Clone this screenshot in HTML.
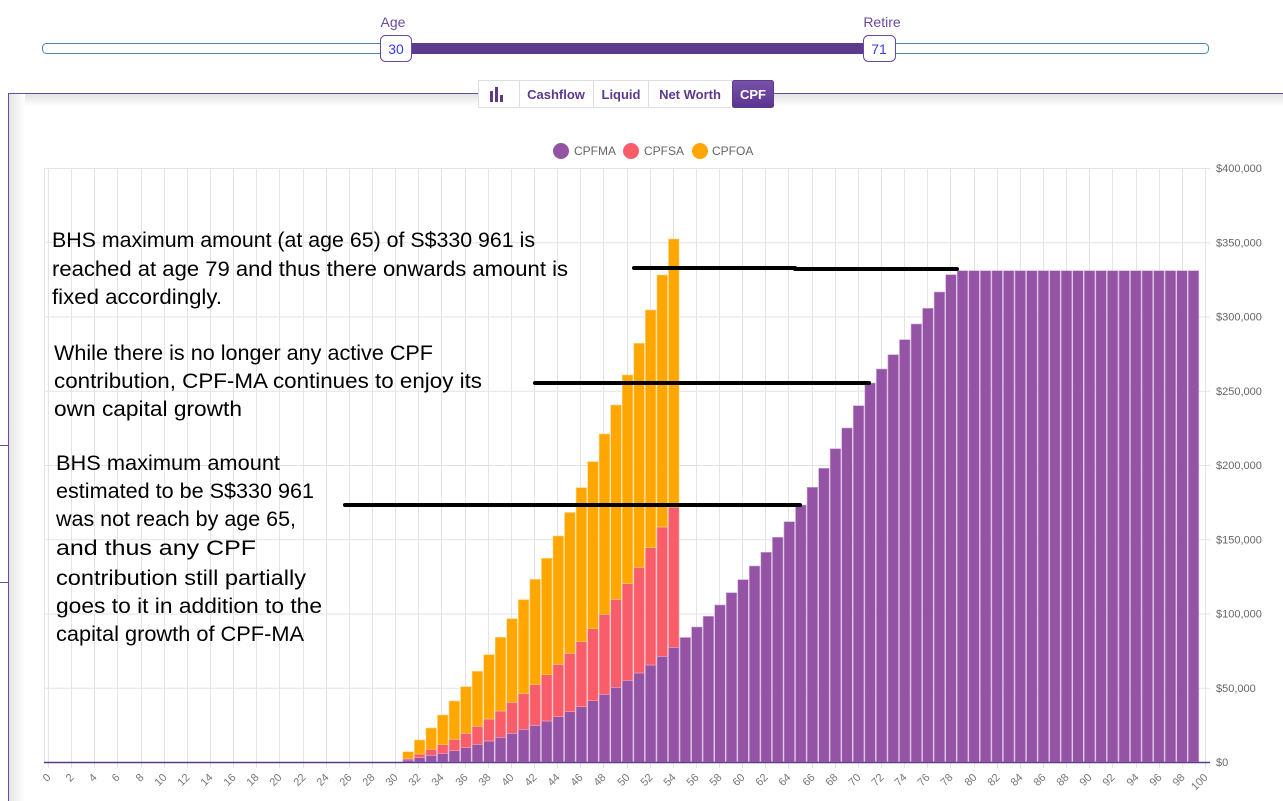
<!DOCTYPE html>
<html><head><meta charset="utf-8"><style>
html,body{margin:0;padding:0;background:#fff;width:1283px;height:801px;overflow:hidden;font-family:"Liberation Sans",sans-serif}
</style></head><body>
<svg id="s" width="1283" height="801" xmlns="http://www.w3.org/2000/svg" font-family="Liberation Sans, sans-serif">
<defs>
<linearGradient id="lg" x1="0" x2="1" y1="0" y2="0"><stop offset="0" stop-color="#e6e6e6"/><stop offset="1" stop-color="#fff"/></linearGradient>
<linearGradient id="tg" x1="0" x2="0" y1="0" y2="1"><stop offset="0" stop-color="#e2e2e2"/><stop offset="1" stop-color="#fff"/></linearGradient>
<linearGradient id="cpf" x1="0" x2="0" y1="0" y2="1"><stop offset="0" stop-color="#7a52a8"/><stop offset="1" stop-color="#5a3590"/></linearGradient>
</defs>
<text x="393" y="27" font-size="14" fill="#6a4aa0" text-anchor="middle">Age</text>
<text x="882" y="27" font-size="14" fill="#6a4aa0" text-anchor="middle">Retire</text>
<rect x="42.5" y="43.5" width="1166" height="10" rx="4" fill="#fff" stroke="#4a86b4"/>
<rect x="400" y="43" width="475" height="11" fill="#5c3a8e"/>
<rect x="380.5" y="35.5" width="31" height="26" rx="5" fill="#fff" stroke="#6a4aa0"/>
<text x="396" y="54" font-size="14" fill="#3a3aee" text-anchor="middle">30</text>
<rect x="863.5" y="35.5" width="32" height="26" rx="5" fill="#fff" stroke="#6a4aa0"/>
<text x="879" y="54" font-size="14" fill="#3a3aee" text-anchor="middle">71</text>
<rect x="9" y="94" width="1274" height="12" fill="url(#tg)"/>
<rect x="9" y="94" width="16" height="707" fill="url(#lg)"/>
<line x1="8.5" y1="93" x2="8.5" y2="801" stroke="#6a4aa0"/>
<line x1="8" y1="93.5" x2="1283" y2="93.5" stroke="#6a4aa0"/>
<line x1="0" y1="445.5" x2="8" y2="445.5" stroke="#6a4aa0"/>
<line x1="0" y1="582.5" x2="8" y2="582.5" stroke="#6a4aa0"/>
<g font-size="13" font-weight="bold" fill="#5c3a8e">
<rect x="478.5" y="80.5" width="41" height="27" fill="#fff" stroke="#ddd"/>
<rect x="490" y="91" width="3" height="11" fill="#5c3a8e"/><rect x="495" y="87" width="3" height="15" fill="#5c3a8e"/><rect x="500" y="95" width="3" height="7" fill="#5c3a8e"/>
<rect x="519.5" y="80.5" width="74" height="27" fill="#fff" stroke="#ddd"/><text x="556" y="99" text-anchor="middle">Cashflow</text>
<rect x="593.5" y="80.5" width="55" height="27" fill="#fff" stroke="#ddd"/><text x="621" y="99" text-anchor="middle">Liquid</text>
<rect x="648.5" y="80.5" width="84" height="27" fill="#fff" stroke="#ddd"/><text x="690" y="99" text-anchor="middle">Net Worth</text>
<rect x="732.5" y="80.5" width="41" height="27" rx="2" fill="url(#cpf)" stroke="#5c3a8e"/><text x="753" y="99" text-anchor="middle" fill="#fff">CPF</text>
</g>
<g font-size="12" fill="#666">
<circle cx="561" cy="151" r="8" fill="#9553a6"/><text x="574" y="155">CPFMA</text>
<circle cx="631" cy="151" r="8" fill="#f95d6a"/><text x="644" y="155">CPFSA</text>
<circle cx="700" cy="151" r="8" fill="#ffa600"/><text x="712" y="155">CPFOA</text>
</g>
<g id="grid"></g>
<g id="bars"></g>
<g id="axis"></g>
<g font-size="21" fill="#000">
<text x="52" y="247" textLength="483" lengthAdjust="spacingAndGlyphs">BHS maximum amount (at age 65) of S$330 961 is</text>
<text x="52" y="276" textLength="516" lengthAdjust="spacingAndGlyphs">reached at age 79 and thus there onwards amount is</text>
<text x="52" y="304" textLength="170" lengthAdjust="spacingAndGlyphs">fixed accordingly.</text>
<text x="54" y="360" textLength="379" lengthAdjust="spacingAndGlyphs">While there is no longer any active CPF</text>
<text x="54" y="388" textLength="428" lengthAdjust="spacingAndGlyphs">contribution, CPF-MA continues to enjoy its</text>
<text x="54" y="416" textLength="188" lengthAdjust="spacingAndGlyphs">own capital growth</text>
<text x="56" y="470" textLength="224" lengthAdjust="spacingAndGlyphs">BHS maximum amount</text>
<text x="56" y="498" textLength="258" lengthAdjust="spacingAndGlyphs">estimated to be S$330 961</text>
<text x="56" y="526" textLength="240" lengthAdjust="spacingAndGlyphs">was not reach by age 65,</text>
<text x="56" y="555" textLength="200" lengthAdjust="spacingAndGlyphs">and thus any CPF</text>
<text x="56" y="585" textLength="250" lengthAdjust="spacingAndGlyphs">contribution still partially</text>
<text x="56" y="613" textLength="266" lengthAdjust="spacingAndGlyphs">goes to it in addition to the</text>
<text x="56" y="641" textLength="248" lengthAdjust="spacingAndGlyphs">capital growth of CPF-MA</text>
</g>
<g stroke="#000" stroke-width="4" stroke-linecap="round">
<line x1="634" y1="268" x2="795" y2="268"/><line x1="795" y1="269" x2="957" y2="269"/>
<line x1="535" y1="383" x2="869" y2="383"/>
<line x1="345" y1="505" x2="800" y2="505"/>
</g>
</svg>
<script>
var NS="http://www.w3.org/2000/svg";
function el(p,t,a,txt){var e=document.createElementNS(NS,t);for(var k in a)e.setAttribute(k,a[k]);if(txt!=null)e.textContent=txt;document.getElementById(p).appendChild(e);return e;}
var L=44.3,W=11.55,B=762;
for(var i=0;i<=8;i++){var y=B-i*74.25;el('grid','line',{x1:44,x2:1210,y1:y+.5,y2:y+.5,stroke:'#e3e3e3'});
 el('grid','text',{x:1216,y:y+4,'font-size':11,fill:'#666'},'$'+(i==0?'0':(i*50)+',000'));}
el('grid','line',{x1:44.5,x2:44.5,y1:168,y2:762,stroke:'#e3e3e3'});
for(var a=0;a<=100;a+=2){var x=Math.round(48+11.57*a)+.5;el('grid','line',{x1:x,x2:x,y1:168,y2:768,stroke:'#e3e3e3'});
 el('axis','text',{x:x+3,y:778,'font-size':11,fill:'#777','text-anchor':'end',transform:'rotate(-45 '+(x+3)+' 778)'},String(a));}
el('axis','line',{x1:44,x2:1210,y1:762.5,y2:762.5,stroke:'#5c3a8e','stroke-width':1.5});
var tot={31:751.7,32:740,33:728,34:715,35:701,36:686.7,37:671.3,38:654.7,39:637.3,40:618.7,41:599.7,42:579.3,43:558.3,44:536,45:512.5,46:487.7,47:461.7,48:434,49:405,50:375,51:343.3,52:310,53:275,54:239};
var sa={31:758.3,32:754,33:749.3,34:744.7,35:739.3,36:733.3,37:726.3,38:719,39:711,40:702.3,41:693.7,42:684.7,43:674.7,44:664.3,45:653.3,46:641.7,47:628.7,48:614.3,49:599.3,50:583.7,51:567.3,52:547.7,53:527,54:507};
var ma={31:760,32:757.7,33:755.3,34:753.3,35:750.7,36:747.7,37:744.3,38:741,39:737.3,40:733.3,41:729.3,42:725.3,43:721,44:716.7,45:711.7,46:706.7,47:700.7,48:694.3,49:687.3,50:680.3,51:673,52:665,53:656.3,54:647.3,55:637.5,56:627,57:616.3,58:605,59:592.7,60:579.7,61:566,62:552.3,63:537.3,64:521.7,65:505,66:487.3,67:468.3,68:448.7,69:428,70:405.7,71:383,72:369,73:354.7,74:339.7,75:324,76:308.3,77:292,78:274.7};
for(var a=31;a<=99;a++){var x=L+W*a+0.5,w=W-1;var m=ma[a]||270.7;
 el('bars','rect',{x:x,y:m,width:w,height:B-m,fill:'#9553a6',stroke:'#c9a6d3','stroke-width':0.6});
 if(sa[a]){el('bars','rect',{x:x,y:sa[a],width:w,height:m-sa[a],fill:'#f95d6a',stroke:'#fcaab1','stroke-width':0.6});
  el('bars','rect',{x:x,y:tot[a],width:w,height:sa[a]-tot[a],fill:'#ffa600',stroke:'#ffd27f','stroke-width':0.6});}
}
</script>
</body></html>
